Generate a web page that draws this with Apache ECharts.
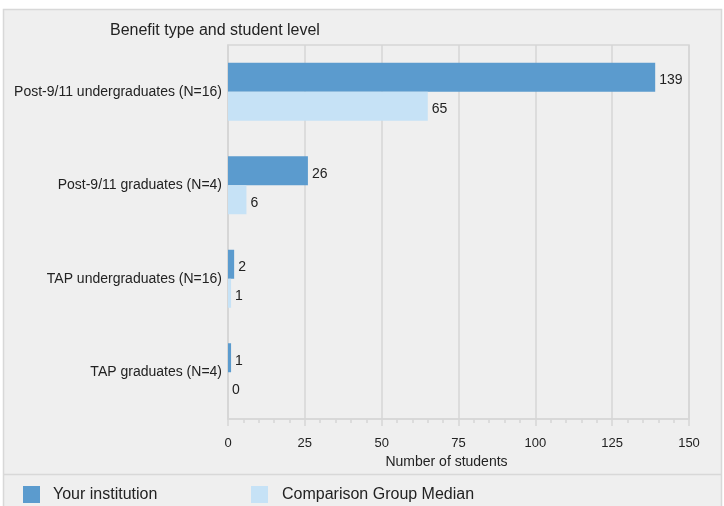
<!DOCTYPE html>
<html>
<head>
<meta charset="utf-8">
<script src="https://cdn.jsdelivr.net/npm/echarts@6/dist/echarts.min.js"></script>
<style>
  html, body { margin: 0; padding: 0; background: #fff; }
  #chart { width: 724px; height: 506px; }
</style>
</head>
<body>
<div id="chart"></div>
<script>
// 分类和数据
var categories = [
  'Post-9/11 undergraduates (N=16)',
  'Post-9/11 graduates (N=4)',
  'TAP undergraduates (N=16)',
  'TAP graduates (N=4)'
]
var yourInstitution = [139, 26, 2, 1]
var groupMedian = [65, 6, 1, 0]
var seriesNames = ['Your institution', 'Comparison Group Median']

var font = 'Liberation Sans, Arial, sans-serif'
var gridColor = '#d6d6d6'

var myChart = echarts.init(document.getElementById('chart'))
var options = {
  animation: false,
  textStyle: { fontFamily: font },
  // 背景框和图例上方的分隔线
  graphic: [
    {
      type: 'rect', z: -10,
      shape: { x: 3.5, y: 9.5, width: 718, height: 510 },
      style: { fill: '#efefef', stroke: '#d8d8d8', lineWidth: 1.5 }
    },
    {
      type: 'line', z: -5,
      shape: { x1: 3, y1: 474.5, x2: 722, y2: 474.5 },
      style: { stroke: '#d8d8d8', lineWidth: 1.5 }
    }
  ],
  title: {
    text: 'Benefit type and student level',
    left: 105, top: 18,
    textStyle: { fontFamily: font, fontSize: 16, fontWeight: 'normal', color: '#222' }
  },
  legend: [
    {
      data: [seriesNames[0]], left: 18, top: 481,
      itemWidth: 17, itemHeight: 17, icon: 'rect',
      textStyle: { fontFamily: font, fontSize: 16, color: '#222', padding: [2, 0, 0, 8] }
    },
    {
      data: [seriesNames[1]], left: 246, top: 481,
      itemWidth: 17, itemHeight: 17, icon: 'rect',
      textStyle: { fontFamily: font, fontSize: 16, color: '#222', padding: [2, 0, 0, 9] }
    }
  ],
  grid: {
    left: 228, right: 35, top: 45, bottom: 87,
    show: true, borderColor: gridColor, borderWidth: 1.5, backgroundColor: 'transparent'
  },
  xAxis: {
    type: 'value', min: 0, max: 150, interval: 25,
    name: 'Number of students', nameLocation: 'middle', nameGap: 36,
    nameTextStyle: { fontFamily: font, fontSize: 14, color: '#222', padding: [0, 24, 0, 0] },
    axisLine: { show: true, lineStyle: { color: gridColor, width: 1.5 } },
    axisTick: { show: true, length: 7, lineStyle: { color: gridColor, width: 1.5 } },
    minorTick: { show: true, splitNumber: 5, length: 4, lineStyle: { color: gridColor, width: 1.5 } },
    axisLabel: { margin: 18, fontSize: 13, color: '#222', fontFamily: font },
    splitLine: { show: true, lineStyle: { color: gridColor, width: 1.5 } }
  },
  yAxis: {
    type: 'category', inverse: true, data: categories,
    axisLine: { show: true, lineStyle: { color: gridColor, width: 1.5 } },
    axisTick: { show: false },
    axisLabel: { margin: 6, fontSize: 14, color: '#222', fontFamily: font }
  },
  series: [
    {
      name: seriesNames[0], type: 'bar', data: yourInstitution,
      barWidth: 29, barGap: 0,
      itemStyle: { color: '#5b9bce' },
      label: { show: true, position: 'right', distance: 4, offset: [0, 3], fontSize: 14, color: '#222', fontFamily: font }
    },
    {
      name: seriesNames[1], type: 'bar', data: groupMedian,
      barWidth: 29, barGap: 0,
      itemStyle: { color: '#c6e2f6' },
      label: { show: true, position: 'right', distance: 4, offset: [0, 3], fontSize: 14, color: '#222', fontFamily: font }
    }
  ]
}
myChart.setOption(options)
</script>
</body>
</html>
